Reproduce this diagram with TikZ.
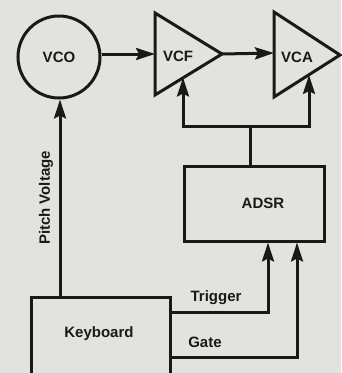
\documentclass[tikz,border=0pt]{standalone}
\usepackage{fontspec}
\setmainfont{Liberation Sans}
\usetikzlibrary{arrows.meta}
\definecolor{paper}{RGB}{226,226,222}
\definecolor{ink}{RGB}{25,25,25}
\begin{document}
\begin{tikzpicture}[x=1pt,y=-1pt,
  wire/.style={draw=ink,line width=3pt},
  arr/.style={wire,-{Stealth[length=19pt,width=12pt,inset=3pt]}},
  lbl/.style={font=\bfseries\fontsize{15}{17}\selectfont,text=ink,inner sep=0pt},
  blk/.style={draw=ink,line width=3pt}]
\fill[paper] (0,0) rectangle (341,373);
\useasboundingbox (0,0) rectangle (341,373);
% VCO
\node[circle,blk,minimum size=82pt,inner sep=0pt] (vco) at (59,57) {};
\node[lbl] (vcot) at (vco) {VCO};
% VCF triangle
\coordinate (f1) at (155,13); \coordinate (f2) at (155,95); \coordinate (f3) at (222,54);
\draw[blk,line join=miter] (f1) -- (f3) -- (f2) -- cycle;
\node[lbl] (vcft) at (178,56) {VCF};
% VCA triangle
\coordinate (a1) at (274,12); \coordinate (a2) at (274,97); \coordinate (a3) at (340,55);
\draw[blk,line join=miter] (a1) -- (a3) -- (a2) -- cycle;
\node[lbl] (vcat) at (297,57) {VCA};
% ADSR
\node[blk,rectangle,minimum width=140pt,minimum height=75pt,inner sep=0pt] (adsr) at (254,203.5) {};
\node[lbl] (adsrt) at (263,203) {ADSR};
% Keyboard
\node[blk,rectangle,minimum width=139pt,minimum height=80pt,inner sep=0pt] (kb) at (100.5,337) {};
\node[lbl] (kbt) at (99,334) {Keyboard};
% connections
\coordinate (vcfin) at (155,54);
\coordinate (vcain) at (274,53);
\draw[arr] (vco.east |- vcfin) -- (vcfin);
\draw[arr] (f3) -- (vcain);
\coordinate (fb) at (183,77.5);
\coordinate (ab) at (309,75);
\coordinate (j) at (250,126);
\draw[wire] (adsr.north -| j) -- (j);
\draw[arr,line join=miter] (j) -- (309,126) -- (ab);
\draw[arr,line join=miter] (j) -- (183,126) -- (fb);
% pitch voltage
\draw[arr] (kb.north -| 60,0) -- (vco.south -| 60,0);
\node[lbl,rotate=90] (pv) at (46,198) {Pitch Voltage};
% trigger and gate
\coordinate (tr) at (268,312);
\coordinate (gt) at (297,357);
\draw[arr,line join=miter] (kb.east |- tr) -- (tr) -- (adsr.south -| tr);
\draw[arr,line join=miter] (kb.east |- gt) -- (gt) -- (adsr.south -| gt);
\node[lbl] (trt) at (216,298) {Trigger};
\node[lbl] (gtt) at (205,342) {Gate};
\end{tikzpicture}
\end{document}
